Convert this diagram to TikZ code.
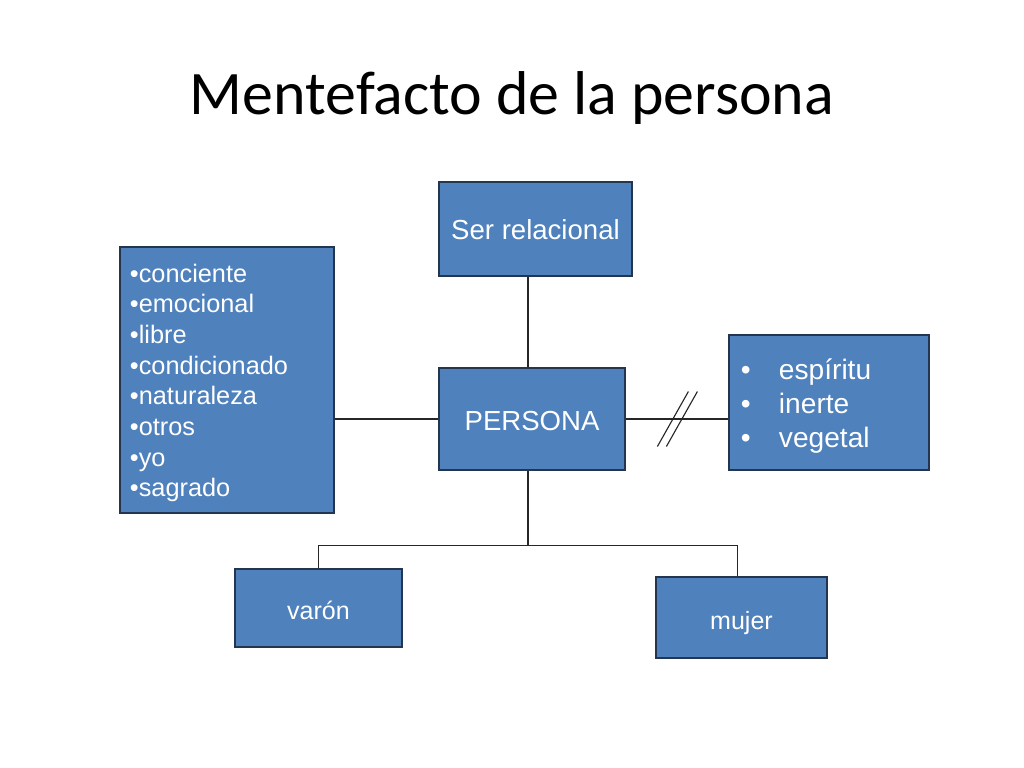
\documentclass[tikz,border=0pt]{standalone}
\usepackage{fontspec}
\setmainfont{Liberation Sans}
\newfontfamily\titlefont{Carlito}
\definecolor{cajaazul}{HTML}{4F81BD}
\definecolor{bordeazul}{HTML}{24364F}
\tikzset{
  caja/.style={draw=bordeazul, fill=cajaazul, line width=0.9pt, text=white, inner sep=0pt, text depth=0pt},
  linea/.style={line width=0.8pt, black!85}
}
\begin{document}
\begin{tikzpicture}[x=0.025cm, y=-0.025cm]
    \useasboundingbox (0,0) rectangle (1024,768);
    \node[font=\titlefont\fontsize{44}{50}\selectfont, text height=21.3pt, text depth=0pt] (titulo) at (512,100) {Mentefacto de la persona};

    \node[caja, minimum width=4.825cm, minimum height=2.35cm, text height=15.2pt, font=\fontsize{19.6}{23}\selectfont] (ser) at (535.5,229) {Ser relacional};
    \node[caja, minimum width=4.65cm, minimum height=2.55cm, text height=16.3pt, font=\fontsize{19.6}{23}\selectfont] (persona) at (532,419) {PERSONA};
    \node[caja, minimum width=5.35cm, minimum height=6.65cm, text width=4.85cm, align=left, inner xsep=0.25cm, text height=14pt, text depth=153pt, font=\fontsize{18}{21.8}\selectfont] (lista) at (227,380)
      {•conciente\\•emocional\\•libre\\•condicionado\\•naturaleza\\•otros\\•yo\\•sagrado};
    \node[caja, minimum width=5cm, minimum height=3.375cm, text width=4.4cm, align=left, inner xsep=0.3cm, text height=15pt, text depth=48pt, font=\fontsize{20}{24.2}\selectfont] (rasgos) at (829,402.5)
      {\makebox[0.95cm][l]{•}espíritu\\\makebox[0.95cm][l]{•}inerte\\\makebox[0.95cm][l]{•}vegetal};
    \node[caja, minimum width=4.175cm, minimum height=1.95cm, text height=16.6pt, font=\fontsize{17.8}{21}\selectfont] (varon) at (318.5,608) {varón};
    \node[caja, minimum width=4.275cm, minimum height=2.025cm, text height=17.4pt, font=\fontsize{17.8}{21}\selectfont] (mujer) at (741.5,617.5) {mujer};

    \draw[linea] ([xshift=-0.1cm]persona.north) -- ([xshift=-0.1cm]persona.north |- ser.south);
    \draw[linea] (persona.west) -- (persona.west -| lista.east);
    \draw[linea] (persona.east) -- (persona.east -| rasgos.west) coordinate[pos=0.46] (corte);
    \draw[linea] (corte) ++(-15.5,27.5) -- ++(31,-55);
    \draw[linea] ([xshift=0.225cm]corte) ++(-15.5,27.5) -- ++(31,-55);
    \draw[linea] ([xshift=-0.1cm]persona.south) -- ++(0,75) coordinate (rama);
    \draw[linea] (varon.north) |- (rama) -| ([xshift=-0.1cm]mujer.north);
\end{tikzpicture}
\end{document}
